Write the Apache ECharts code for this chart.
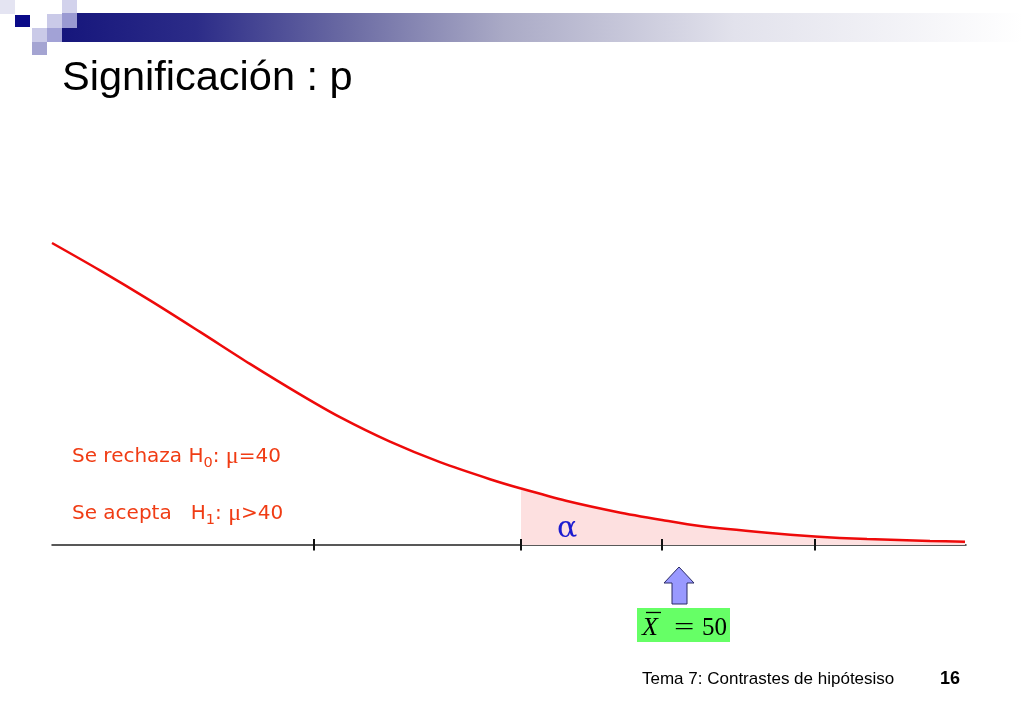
<!DOCTYPE html>
<html>
<head>
<meta charset="utf-8">
<script src="https://cdn.jsdelivr.net/npm/echarts@6/dist/echarts.min.js"></script>
<style>
html,body{margin:0;padding:0;background:#fff;}
#chart{width:1023px;height:708px;}
</style>
</head>
<body>
<div id="chart"></div>
<script>
// ---- data (x in arbitrary horizontal units, y = density height units) ----
const curveX = [0, 4.8, 9.8, 14.8, 19.8, 24.8, 28.8, 33.8, 38.8, 43.8, 46.9, 51.4, 56.5, 61.0, 64.8, 71.5, 76.3, 81.5, 87.8, 91.3];
const curveY = [30.2, 27.46, 24.46, 21.31, 18.11, 15.06, 12.78, 10.33, 8.28, 6.58, 5.65, 4.43, 3.31, 2.5, 1.89, 1.22, 0.86, 0.6, 0.4, 0.32];
const tickPositions = [26.2, 46.9, 61.0, 76.3];
const alphaStart = 46.9;
const xMax = 91.4;
const titleText = 'Significación : p';
const footerText = 'Tema 7: Contrastes de hipótesiso';
const pageNumber = '16';

const curveData = curveX.map((x, i) => [x, curveY[i]]);
const shadeData = curveData.filter(p => p[0] >= alphaStart);

const chart = echarts.init(document.getElementById('chart'), null, {renderer: 'canvas'});

const labelRed = '#f03c14';
const richLabel = {
  a: {fontFamily: 'DejaVu Sans', fontSize: 20, fill: labelRed, lineHeight: 28, verticalAlign: 'middle'},
  s: {fontFamily: 'DejaVu Sans', fontSize: 14.5, fill: labelRed, lineHeight: 14, verticalAlign: 'bottom'},
  m: {fontFamily: 'Liberation Serif', fontSize: 24, fill: labelRed, lineHeight: 28, verticalAlign: 'middle'}
};

const option = {
  backgroundColor: '#ffffff',
  animation: false,
  grid: {left: 52, right: 1023 - 966, top: 243, bottom: 153, containLabel: false},
  xAxis: {
    type: 'value', min: 0, max: xMax,
    axisLine: {show: true, onZero: true, lineStyle: {color: '#222', width: 1.5}},
    axisTick: {show: false}, axisLabel: {show: false}, splitLine: {show: false}
  },
  yAxis: {
    type: 'value', min: -1, max: 30.2, show: false,
    splitLine: {show: false}
  },
  series: [
    {
      type: 'line', data: shadeData, smooth: 0.3, symbol: 'none', clip: false,
      lineStyle: {width: 0, color: 'rgba(0,0,0,0)'},
      areaStyle: {color: '#fde0e0', opacity: 1},
      z: 1,
      markLine: {
        silent: true, symbol: ['none', 'none'], label: {show: false},
        lineStyle: {color: '#111', width: 2, type: 'solid'},
        data: tickPositions.map(t => [{coord: [t, -0.55]}, {coord: [t, 0.6]}])
      }
    },
    {
      type: 'line', data: curveData, smooth: 0.3, symbol: 'none', clip: false,
      lineStyle: {color: '#ee0a0a', width: 2.5},
      z: 3
    }
  ],
  graphic: [
    // header decoration
    {type: 'rect', shape: {x: 62, y: 13, width: 961, height: 29}, z: 1,
      style: {fill: new echarts.graphic.LinearGradient(0, 0, 1, 0, [
        {offset: 0, color: '#16167c'},
        {offset: 0.14, color: '#2c2c88'},
        {offset: 0.3, color: '#6c6ca4'},
        {offset: 0.46, color: '#aaaac6'},
        {offset: 0.7, color: '#e2e2ec'},
        {offset: 1, color: '#ffffff'}
      ])}},
    {type: 'rect', shape: {x: 0, y: 0, width: 15, height: 14}, z: 2, style: {fill: '#e4e4f2'}},
    {type: 'rect', shape: {x: 15, y: 15, width: 15, height: 12}, z: 2, style: {fill: '#0a0a88'}},
    {type: 'rect', shape: {x: 47, y: 14, width: 15, height: 14}, z: 2, style: {fill: '#cacae8'}},
    {type: 'rect', shape: {x: 62, y: 0, width: 15, height: 13}, z: 2, style: {fill: '#d2d2ec'}},
    {type: 'rect', shape: {x: 62, y: 13, width: 15, height: 15}, z: 2, style: {fill: '#9a9ad2'}},
    {type: 'rect', shape: {x: 32, y: 28, width: 15, height: 14}, z: 2, style: {fill: '#cacae8'}},
    {type: 'rect', shape: {x: 47, y: 28, width: 15, height: 14}, z: 2, style: {fill: '#a2a2d6'}},
    {type: 'rect', shape: {x: 32, y: 42, width: 15, height: 13}, z: 2, style: {fill: '#a4a4d2'}},
    // title
    {type: 'text', x: 62, y: 79, z: 5,
      style: {text: titleText, fontFamily: 'Liberation Sans', fontSize: 41.5, fill: '#000', verticalAlign: 'middle'}},
    // hypothesis labels
    {type: 'text', x: 72, y: 457, z: 5,
      style: {text: '{a|Se rechaza H}{s|0}{a|: }{m|μ}{a|=40}', rich: richLabel, verticalAlign: 'middle'}},
    {type: 'text', x: 72, y: 514, z: 5,
      style: {text: '{a|Se acepta   H}{s|1}{a|: }{m|μ}{a|>40}', rich: richLabel, verticalAlign: 'middle'}},
    // alpha
    {type: 'text', x: 557, y: 529, z: 5,
      style: {text: 'α', fontFamily: 'DejaVu Serif', fontSize: 30, fill: '#1c1cd0', verticalAlign: 'middle'}},
    // arrow
    {type: 'polygon', z: 5,
      shape: {points: [[679, 567], [694, 583], [687, 583], [687, 604], [672, 604], [672, 583], [664, 583]]},
      style: {fill: '#9999ff', stroke: '#2a2a66', lineWidth: 1}},
    // green box
    {type: 'rect', z: 5, shape: {x: 637, y: 608, width: 93, height: 34}, style: {fill: '#66ff66'}},
    {type: 'text', x: 642, y: 628, z: 6,
      style: {text: 'X', fontFamily: 'Liberation Serif', fontStyle: 'italic', fontSize: 26, fill: '#000', verticalAlign: 'middle'}},
    {type: 'line', z: 6, shape: {x1: 646, y1: 612.5, x2: 661, y2: 612.5}, style: {stroke: '#000', lineWidth: 1.3}},
    {type: 'text', x: 674, y: 628, z: 6, scaleX: 1.5,
      style: {text: '=', fontFamily: 'Liberation Serif', fontSize: 24, fill: '#000', verticalAlign: 'middle'}},
    {type: 'text', x: 702, y: 628, z: 6,
      style: {text: '50', fontFamily: 'Liberation Serif', fontSize: 25, fill: '#000', verticalAlign: 'middle'}},
    // footer
    {type: 'text', x: 642, y: 679, z: 5,
      style: {text: footerText, fontFamily: 'Liberation Sans', fontSize: 17, fill: '#000', verticalAlign: 'middle'}},
    {type: 'text', x: 940, y: 679, z: 5,
      style: {text: pageNumber, fontFamily: 'Liberation Sans', fontWeight: 'bold', fontSize: 18, fill: '#000', verticalAlign: 'middle'}}
  ]
};
chart.setOption(option);
</script>
</body>
</html>
